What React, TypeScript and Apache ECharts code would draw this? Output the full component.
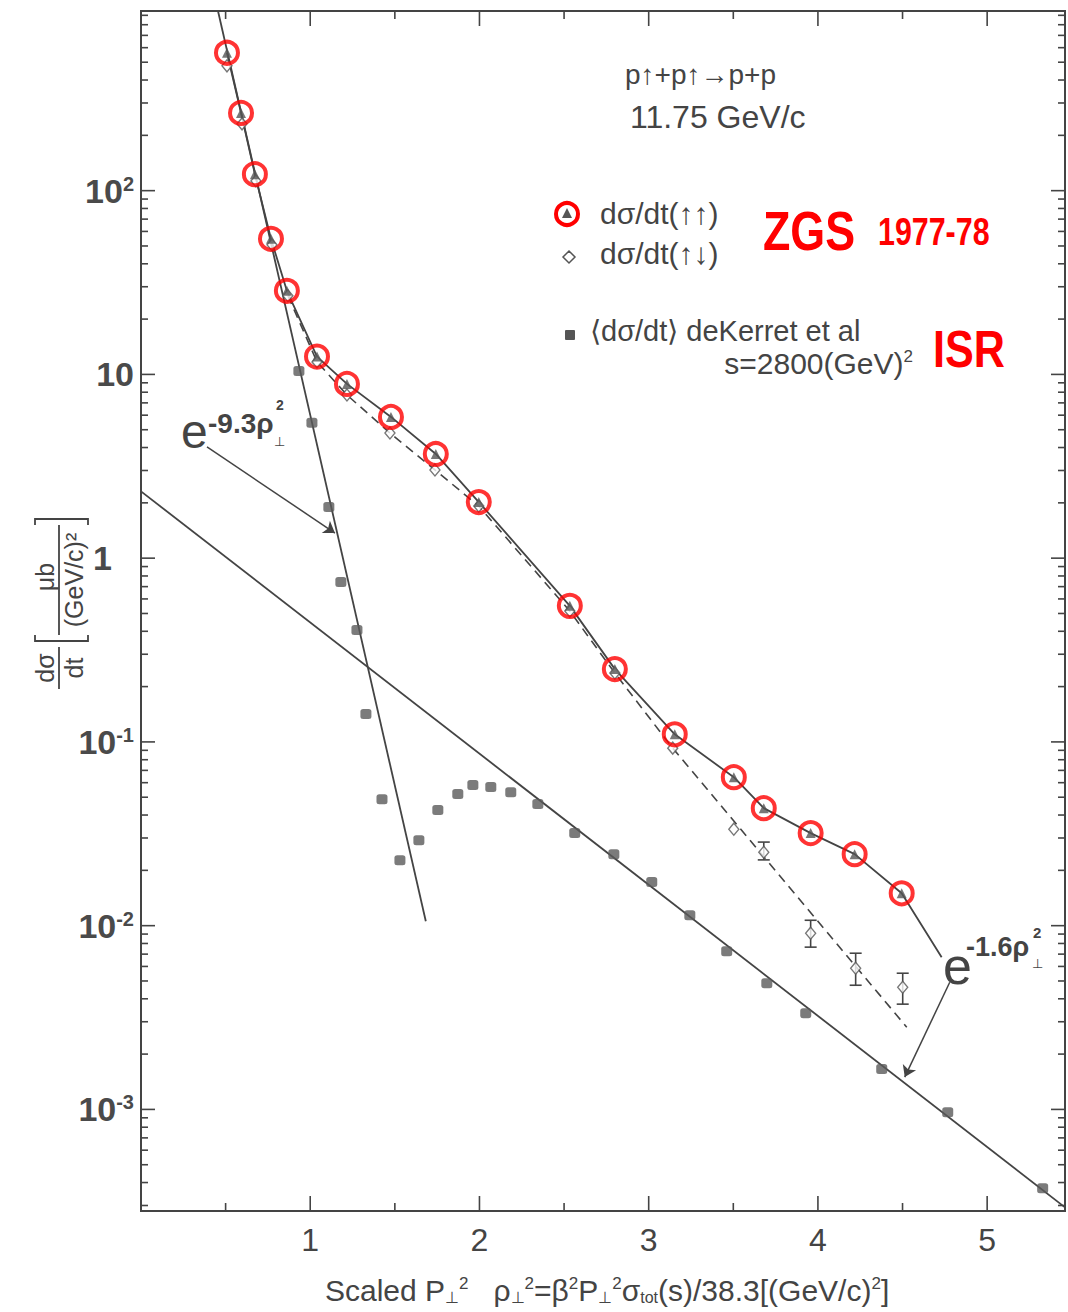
import React, { useEffect, useRef } from 'react';
import * as echarts from 'echarts';

const FONT = "'Liberation Sans', Arial, sans-serif";
const INK = '#444';
const RED = '#ff0000';

// ZGS dσ/dt(↑↑) (triangles in red rings)
const zgsUpUpX = [0.508, 0.591, 0.673, 0.768, 0.862, 1.04, 1.217, 1.477, 1.742, 1.996, 2.534, 2.8, 3.154, 3.503, 3.68, 3.957, 4.217, 4.495];
const zgsUpUpY = [563, 265, 123, 54.7, 28.5, 12.5, 8.88, 5.87, 3.69, 2.02, 0.55, 0.249, 0.11, 0.0643, 0.0436, 0.0319, 0.0245, 0.015];
// tail of the solid ↑↑ curve, running to the e^-1.6 label
const zgsTailX = [4.731];
const zgsTailY = [0.00673];

// ZGS dσ/dt(↑↓) (open diamonds)
const zgsUpDownX = [0.508, 0.597, 0.679, 0.774, 0.868, 1.04, 1.217, 1.471, 1.737, 1.996, 2.534, 2.8, 3.142, 3.503, 3.68, 3.957, 4.223, 4.501];
const zgsUpDownY = [478, 231, 113, 50.7, 26.8, 11.7, 7.73, 4.8, 3.02, 1.92, 0.515, 0.237, 0.0925, 0.0335, 0.0251, 0.0091, 0.00587, 0.00462];
// error bars on the last ↑↓ points
const errX = [3.68, 3.957, 4.223, 4.501];
const errLo = [0.0228, 0.00764, 0.00474, 0.00374];
const errHi = [0.0285, 0.0107, 0.00708, 0.00551];

// dashed ↑↓ curve
const dashedX = [0.868, 1.04, 1.217, 1.471, 1.737, 1.996, 2.534, 2.8, 3.142, 4.525];
const dashedY = [26.8, 11.7, 7.73, 4.8, 3.02, 1.92, 0.515, 0.237, 0.0925, 0.0028];

// ISR <dσ/dt> deKerret et al (filled squares)
const isrX = [0.933, 1.01, 1.11, 1.181, 1.276, 1.329, 1.424, 1.53, 1.642, 1.754, 1.872, 1.961, 2.067, 2.185, 2.345, 2.563, 2.794, 3.018, 3.243, 3.461, 3.698, 3.928, 4.377, 4.767, 5.328];
const isrY = [10.45, 5.45, 1.9, 0.741, 0.406, 0.142, 0.0488, 0.0227, 0.0292, 0.0426, 0.052, 0.0582, 0.0568, 0.0533, 0.0459, 0.0319, 0.0245, 0.0173, 0.0114, 0.00726, 0.00486, 0.00334, 0.00166, 0.000964, 0.000372];

// exponential fits
const steepFitX = [0.455, 1.683];
const steepFitY = [950, 0.01057];
const isrFitX = [0, 5.46];
const isrFitY = [2.31, 0.000293];

// annotation arrows [x1, y1, x2, y2]
const arrow93 = [0.39, 4.03, 1.146, 1.37];
const arrow16 = [4.779, 0.00492, 4.513, 0.0015];

// axes
const X_MIN = 0;
const X_MAX = 5.46;
const Y_MIN = 2.8e-4;
const Y_MAX = 950;
const xMajorTicks = [1, 2, 3, 4, 5];
const xMinorTicks = [0.5, 1.5, 2.5, 3.5, 4.5];
const yMajorExps = [-3, -2, -1, 0, 1, 2];
const yMinorDecades = [-4, -3, -2, -1, 0, 1, 2];
const yMinorMultipliers = [2, 3, 4, 5, 6, 7, 8, 9];

const zip = (xs: number[], ys: number[]) => xs.map((x, i) => [x, ys[i]]);

function buildTicks() {
  const out: number[][] = [];
  xMajorTicks.forEach((v) => out.push([v, 1, 0]));
  xMinorTicks.forEach((v) => out.push([v, 1, 1]));
  yMajorExps.forEach((e) => out.push([1, Math.pow(10, e), 2]));
  yMinorDecades.forEach((d) =>
    yMinorMultipliers.forEach((k) => {
      const v = k * Math.pow(10, d);
      if (v > Y_MIN && v < Y_MAX) out.push([1, v, 3]);
    })
  );
  return out;
}

const tickRender = (params: any, api: any) => {
  const cs = params.coordSys;
  const kind = api.value(2);
  const p = api.coord([api.value(0), api.value(1)]);
  const st = { stroke: INK, lineWidth: 1.6 };
  if (kind < 2) {
    const len = kind === 0 ? 15 : 8;
    const yb = cs.y + cs.height;
    const yt = cs.y;
    return {
      type: 'group',
      children: [
        { type: 'line', shape: { x1: p[0], y1: yb, x2: p[0], y2: yb - len }, style: st },
        { type: 'line', shape: { x1: p[0], y1: yt, x2: p[0], y2: yt + len }, style: st },
      ],
    };
  }
  const len = kind === 2 ? 14 : 7;
  const xl = cs.x;
  const xr = cs.x + cs.width;
  return {
    type: 'group',
    children: [
      { type: 'line', shape: { x1: xl, y1: p[1], x2: xl + len, y2: p[1] }, style: st },
      { type: 'line', shape: { x1: xr, y1: p[1], x2: xr - len, y2: p[1] }, style: st },
    ],
  };
};

const errRender = (params: any, api: any) => {
  const x = api.value(0);
  const a = api.coord([x, api.value(1)]);
  const b = api.coord([x, api.value(2)]);
  const w = 6;
  const st = { stroke: INK, lineWidth: 1.6 };
  return {
    type: 'group',
    children: [
      { type: 'line', shape: { x1: a[0], y1: a[1], x2: b[0], y2: b[1] }, style: st },
      { type: 'line', shape: { x1: a[0] - w, y1: a[1], x2: a[0] + w, y2: a[1] }, style: st },
      { type: 'line', shape: { x1: b[0] - w, y1: b[1], x2: b[0] + w, y2: b[1] }, style: st },
    ],
  };
};

const yLabel = (v: number) => {
  const l = Math.log10(v);
  const e = Math.round(l);
  if (Math.abs(l - e) > 1e-6 || yMajorExps.indexOf(e) < 0) return '';
  if (e === 0) return '{one|1}';
  if (e === 1) return '{b|10}';
  return '{b|10}{s|' + e + '}';
};

const lineStyle = { color: INK, width: 1.8 };

function buildOption() {
  const txt = (x: number, y: number, text: string, fontSize: number, extra: any = {}) => ({
    type: 'text',
    x,
    y,
    silent: true,
    style: { text, fontSize, fill: INK, fontFamily: FONT, verticalAlign: 'middle', ...extra },
  });
  const supRich = {
    n: { fontSize: 30, fontFamily: FONT, color: INK, fill: INK },
    p: { fontSize: 17, fontFamily: FONT, verticalAlign: 'top', color: INK, fill: INK },
    s: { fontSize: 16, fontFamily: FONT, verticalAlign: 'bottom', color: INK, fill: INK },
  };
  const yt = (x: number, y: number, text: string, va: string) => ({
    type: 'text',
    x,
    y,
    style: { text, fontSize: 25, fontFamily: FONT, fill: INK, align: 'center', verticalAlign: va },
  });
  return {
    animation: false,
    backgroundColor: '#ffffff',
    grid: {
      left: 141,
      top: 11,
      width: 924,
      height: 1200,
      show: true,
      borderColor: INK,
      borderWidth: 2,
      backgroundColor: 'transparent',
    },
    xAxis: {
      type: 'value',
      min: X_MIN,
      max: X_MAX,
      interval: 1,
      axisLine: { show: false },
      axisTick: { show: false },
      splitLine: { show: false },
      axisLabel: {
        formatter: (v: number) => (xMajorTicks.indexOf(v) >= 0 ? String(v) : ''),
        fontSize: 32,
        color: INK,
        fontFamily: FONT,
        margin: 13,
        showMaxLabel: false,
      },
    },
    yAxis: {
      type: 'log',
      logBase: 10,
      min: Y_MIN,
      max: Y_MAX,
      axisLine: { show: false },
      axisTick: { show: false },
      splitLine: { show: false },
      axisLabel: {
        formatter: yLabel,
        showMinLabel: false,
        showMaxLabel: false,
        margin: 7,
        rich: {
          b: { fontSize: 34, fontWeight: 'bold', color: '#4a4a4a', fontFamily: FONT },
          s: { fontSize: 20, fontWeight: 'bold', color: '#4a4a4a', fontFamily: FONT, verticalAlign: 'top' },
          one: { fontSize: 34, fontWeight: 'bold', color: '#4a4a4a', fontFamily: FONT, padding: [0, 22, 0, 0] },
        },
      },
    },
    series: [
      {
        type: 'custom',
        name: 'ticks',
        silent: true,
        renderItem: tickRender,
        encode: { x: 0, y: 1 },
        data: buildTicks(),
        z: 1,
      },
      {
        type: 'line',
        name: 'e^-1.6 fit',
        data: zip(isrFitX, isrFitY),
        symbol: 'none',
        lineStyle,
        z: 2,
        markLine: {
          silent: true,
          symbol: ['none', 'arrow'],
          symbolSize: 11,
          label: { show: false },
          lineStyle: { color: INK, width: 1.5, type: 'solid' },
          data: [
            [{ coord: [arrow93[0], arrow93[1]] }, { coord: [arrow93[2], arrow93[3]] }],
            [{ coord: [arrow16[0], arrow16[1]] }, { coord: [arrow16[2], arrow16[3]] }],
          ],
        },
      },
      { type: 'line', name: 'e^-9.3 fit', data: zip(steepFitX, steepFitY), symbol: 'none', lineStyle, z: 2 },
      {
        type: 'line',
        name: 'ZGS ↑↑ curve',
        data: zip(zgsUpUpX.concat(zgsTailX), zgsUpUpY.concat(zgsTailY)),
        symbol: 'none',
        lineStyle,
        z: 2,
      },
      {
        type: 'line',
        name: 'ZGS ↑↓ curve',
        data: zip(dashedX, dashedY),
        symbol: 'none',
        lineStyle: { color: INK, width: 1.6, type: [9, 6] },
        z: 2,
      },
      {
        type: 'custom',
        name: 'errors',
        silent: true,
        renderItem: errRender,
        encode: { x: 0, y: [1, 2] },
        data: errX.map((x, i) => [x, errLo[i], errHi[i]]),
        z: 3,
      },
      {
        type: 'scatter',
        name: 'ISR',
        data: zip(isrX, isrY),
        symbol: 'roundRect',
        symbolSize: [11, 10],
        itemStyle: { color: '#5a5a5a' },
        z: 4,
      },
      {
        type: 'scatter',
        name: 'dσ/dt(↑↓)',
        data: zip(zgsUpDownX, zgsUpDownY),
        symbol: 'diamond',
        symbolSize: [10, 12],
        itemStyle: { color: '#ffffff', borderColor: '#555', borderWidth: 1.4 },
        z: 4,
      },
      {
        type: 'scatter',
        name: 'dσ/dt(↑↑) tri',
        data: zip(zgsUpUpX, zgsUpUpY),
        symbol: 'triangle',
        symbolSize: 10,
        itemStyle: { color: '#555' },
        z: 5,
      },
      {
        type: 'scatter',
        name: 'dσ/dt(↑↑)',
        data: zip(zgsUpUpX, zgsUpUpY),
        symbol: 'circle',
        symbolSize: 22,
        itemStyle: { color: 'rgba(255,255,255,0)', borderColor: RED, borderWidth: 4 },
        z: 6,
      },
    ],
    graphic: [
      txt(625, 74, 'p↑+p↑→p+p', 28),
      txt(630, 117, '11.75 GeV/c', 32),
      { type: 'circle', silent: true, shape: { cx: 567, cy: 214, r: 11 }, style: { fill: 'none', stroke: RED, lineWidth: 4 } },
      { type: 'polygon', silent: true, shape: { points: [[567, 208], [562, 218], [572, 218]] }, style: { fill: '#555' } },
      txt(600, 213, 'dσ/dt(↑↑)', 30),
      { type: 'polygon', silent: true, shape: { points: [[569, 251], [575, 257], [569, 263], [563, 257]] }, style: { fill: '#fff', stroke: '#555', lineWidth: 1.5 } },
      txt(600, 253, 'dσ/dt(↑↓)', 30),
      { ...txt(763, 231, 'ZGS', 56, { fontWeight: 'bold', fill: RED }), scaleX: 0.8 },
      { ...txt(878, 232, '1977-78', 38, { fontWeight: 'bold', fill: RED }), scaleX: 0.8 },
      { type: 'rect', silent: true, shape: { x: 565, y: 330, width: 10, height: 10, r: 1 }, style: { fill: '#555' } },
      txt(590, 331, '⟨dσ/dt⟩ deKerret et al', 29),
      {
        type: 'text',
        x: 913,
        y: 363,
        silent: true,
        style: {
          text: '{n|s=2800(GeV)}{p|2}',
          align: 'right',
          verticalAlign: 'middle',
          rich: { n: { fontSize: 30, fontFamily: FONT, fill: INK, color: INK }, p: { fontSize: 17, fontFamily: FONT, verticalAlign: 'top', fill: INK, color: INK } },
        },
      },
      { ...txt(933, 349, 'ISR', 52, { fontWeight: 'bold', fill: RED }), scaleX: 0.83 },

      // e^{-9.3 ρ⊥²}
      txt(181, 431, 'e', 48),
      txt(208, 423, '-9.3ρ', 28, { fontWeight: 'bold' }),
      txt(276, 405, '2', 14, { fontWeight: 'bold' }),
      txt(274, 441, '⊥', 13),
      // e^{-1.6 ρ⊥²}
      txt(943, 966, 'e', 52),
      txt(966, 947, '-1.6ρ', 27, { fontWeight: 'bold' }),
      txt(1033, 932, '2', 15, { fontWeight: 'bold' }),
      txt(1032, 963, '⊥', 13),

      // x-axis title
      {
        type: 'text',
        x: 325,
        y: 1290,
        silent: true,
        style: {
          text: '{n|Scaled P}{s|⊥}{p|2}{n|   ρ}{s|⊥}{p|2}{n|=β}{p|2}{n|P}{s|⊥}{p|2}{n|σ}{s|tot}{n|(s)/38.3[(GeV/c)}{p|2}{n|]}',
          verticalAlign: 'middle',
          rich: supRich,
        },
      },

      // y-axis title (rotated, reads bottom to top)
      {
        type: 'group',
        x: 59,
        y: 605,
        rotation: Math.PI / 2,
        silent: true,
        children: [
          yt(-63, -2, 'dσ', 'bottom'),
          { type: 'line', shape: { x1: -84, y1: 0, x2: -42, y2: 0 }, style: { stroke: INK, lineWidth: 1.8 } },
          yt(-63, 2, 'dt', 'top'),
          { type: 'polyline', shape: { points: [[-30, -24], [-36, -24], [-36, 29], [-30, 29]] }, style: { stroke: INK, lineWidth: 1.8, fill: 'none' } },
          yt(28, -2, 'μb', 'bottom'),
          { type: 'line', shape: { x1: -30, y1: 0, x2: 80, y2: 0 }, style: { stroke: INK, lineWidth: 1.8 } },
          yt(25, 2, '(GeV/c)²', 'top'),
          { type: 'polyline', shape: { points: [[80, -24], [86, -24], [86, 29], [80, 29]] }, style: { stroke: INK, lineWidth: 1.8, fill: 'none' } },
        ],
      },
    ],
  };
}

export default function App() {
  const ref = useRef<HTMLDivElement>(null);
  useEffect(() => {
    document.body.style.margin = '0';
    if (!ref.current) return;
    const chart = echarts.init(ref.current, undefined, { renderer: 'svg' });
    chart.setOption(buildOption() as any);
    return () => chart.dispose();
  }, []);
  return (
    <div
      ref={ref}
      style={{ position: 'absolute', left: 0, top: 0, width: 1068, height: 1312, background: '#fff' }}
    />
  );
}
